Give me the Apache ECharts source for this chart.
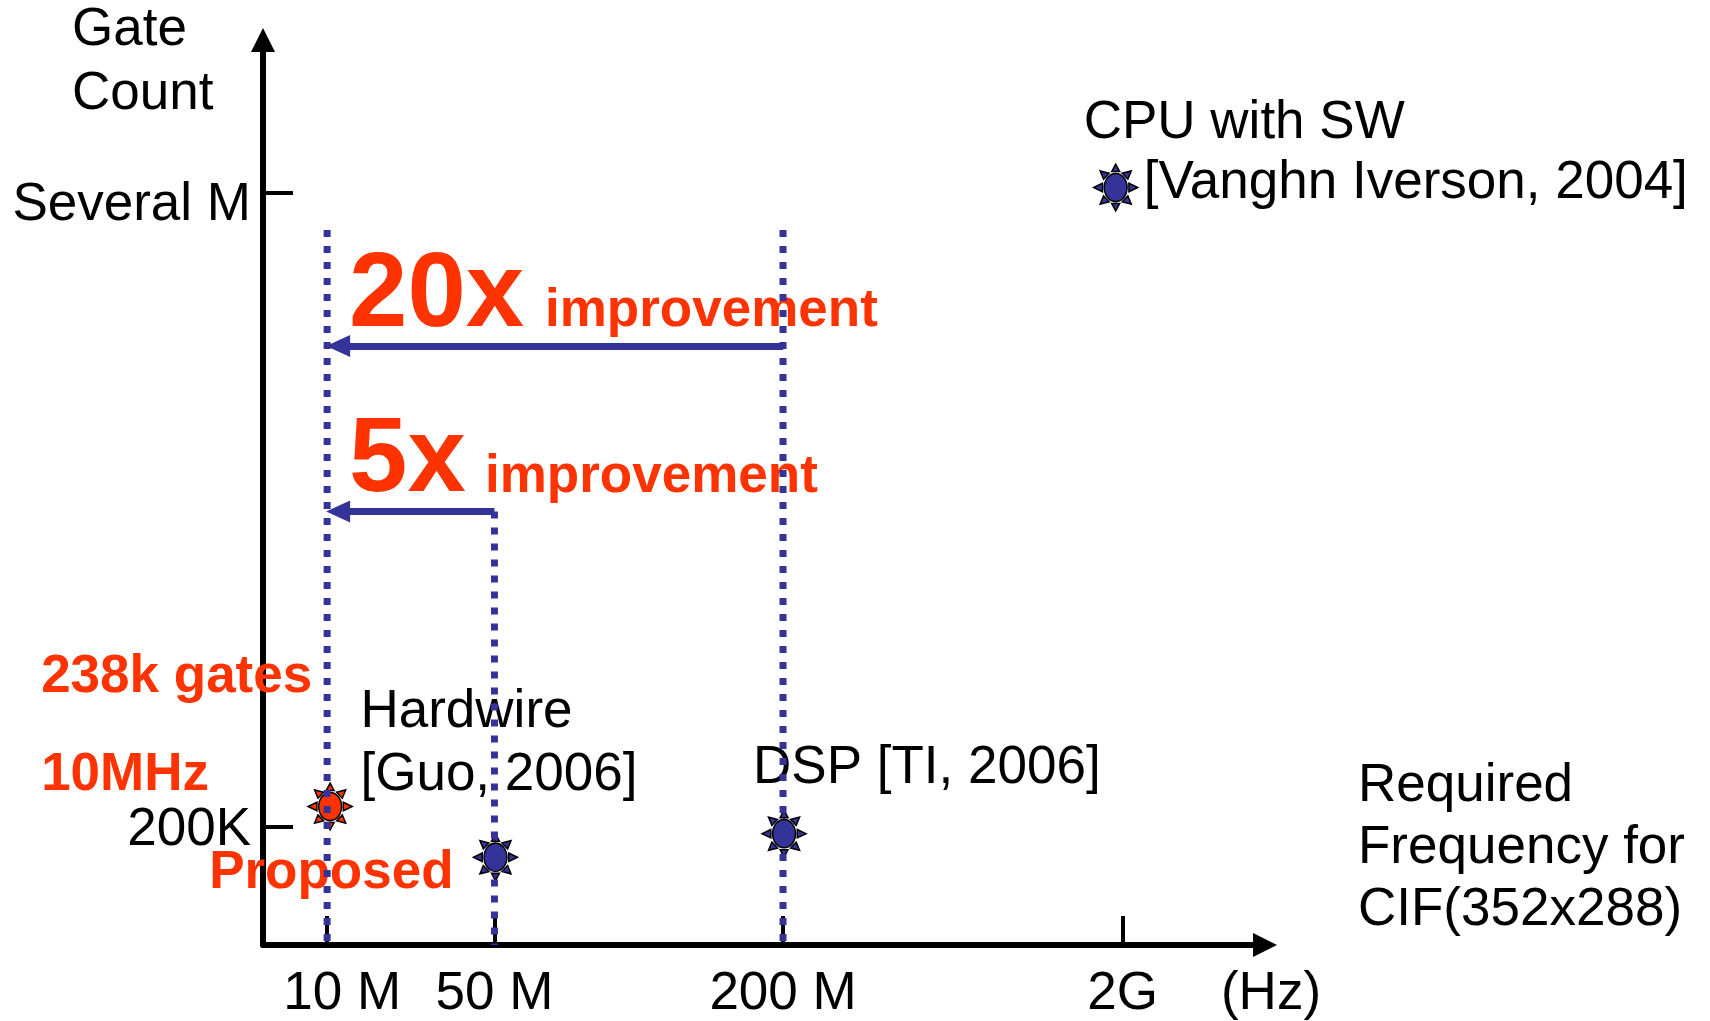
<!DOCTYPE html>
<html>
<head>
<meta charset="utf-8">
<script src="https://cdn.jsdelivr.net/npm/echarts@6/dist/echarts.min.js"></script>
<style>
  html, body { margin: 0; padding: 0; background: #fff; }
  #chart { width: 1710px; height: 1021px; }
</style>
</head>
<body>
<div id="chart"></div>
<script>
// frequency axis is schematic (neither linear nor log), so it runs 0..100 in axis units
const freqLabels = ['10 M', '50 M', '200 M', '2G', '(Hz)'];
const freqPos = [6.4, 23.1, 51.9, 85.8, 100];
// gate count axis, schematic too
const gateLabels = ['200K', 'Several M'];
const gatePos = [13.1, 83.1];

// designs
const designNames = ['Proposed', 'Hardwire', 'DSP', 'CPU'];
const designFreq = [6.7, 23.2, 52.0, 85.1];
const designGate = [15.3, 9.7, 12.3, 83.7];

// dotted guides (index into freqPos) and how high they reach
const guideFreqIdx = [0, 1, 2];
const guideTop = [79.0, 47.9, 79.0];

// improvement arrows
const arrowFromIdx = [2, 1];
const arrowToIdx = [0, 0];
const arrowGate = [66.2, 47.9];
const arrowText = ['20x', '5x'];

const RED = '#FF3300';
const BLUE = '#333399';
const FONT = '"Liberation Sans", Arial, sans-serif';

// sun-like marker: ellipse plus 8 spikes
function sunPath() {
    const cx = 50, cy = 50, rx = 26, ry = 30;
    let d = 'M' + (cx - rx) + ',' + cy + 'A' + rx + ',' + ry + ' 0 1,0 ' + (cx + rx) + ',' + cy
        + 'A' + rx + ',' + ry + ' 0 1,0 ' + (cx - rx) + ',' + cy + 'Z';
    for (let k = 0; k < 8; k++) {
        const a = k * Math.PI / 4;
        const c = Math.cos(a), s = Math.sin(a);
        const bx = cx + (rx + 4) * c, by = cy + (ry + 4) * s;
        const tx = cx + 50 * c, ty = cy + 50 * s;
        const w = 9;
        d += 'M' + (bx - w * s).toFixed(2) + ',' + (by + w * c).toFixed(2)
            + 'L' + tx.toFixed(2) + ',' + ty.toFixed(2)
            + 'L' + (bx + w * s).toFixed(2) + ',' + (by - w * c).toFixed(2) + 'Z';
    }
    return 'path://' + d;
}

const plainRich = (lh) => ({ fontSize: 53, color: '#000', fontFamily: FONT, lineHeight: lh });
const redRich = (lh, padLeft) => ({
    fontSize: 53, fontWeight: 'bold', color: RED, fontFamily: FONT, lineHeight: lh,
    padding: [0, 0, 0, padLeft]
});

const pointLabels = {
    Proposed: {
        formatter: '{a|238k gates}\n{a|10MHz}\n{b|Proposed}',
        offset: [-289, -31],
        rich: { a: redRich(98, 0), b: redRich(98, 168) }
    },
    Hardwire: {
        formatter: '{a|Hardwire}\n{a|[Guo, 2006]}',
        offset: [-135, -113],
        rich: { a: plainRich(63) }
    },
    DSP: {
        formatter: '{a|DSP [TI, 2006]}',
        offset: [-31, -65],
        rich: { a: plainRich(60) }
    },
    CPU: {
        formatter: '{a|CPU with SW}\n{b|[Vanghn Iverson, 2004]}',
        offset: [-32, -34],
        rich: { a: plainRich(60), b: Object.assign(plainRich(60), { padding: [0, 0, 0, 60] }) }
    }
};

const points = designNames.map((name, i) => ({
    name: name,
    value: [designFreq[i], designGate[i]],
    itemStyle: { color: name === 'Proposed' ? RED : BLUE, opacity: 1 },
    label: Object.assign({ show: true, position: 'inside', align: 'left', verticalAlign: 'middle' }, pointLabels[name])
}));

const guideSeries = guideFreqIdx.map((fi, i) => ({
    type: 'line',
    silent: true,
    z: 10,
    symbol: 'none',
    data: [[freqPos[fi], guideTop[i]], [freqPos[fi], 0]],
    lineStyle: { color: BLUE, width: 7, type: [7, 9], cap: 'butt' }
}));

// arrows ride on the first guide series
guideSeries[0].markLine = {
    silent: true,
    symbol: ['none', 'triangle'],
    symbolSize: [22, 24],
    label: { show: false },
    lineStyle: { color: BLUE, width: 7, type: 'solid', cap: 'butt' },
    data: arrowGate.map((g, i) => [
        { coord: [freqPos[arrowFromIdx[i]], g] },
        { coord: [freqPos[arrowToIdx[i]] + 1.1, g] }
    ])
};

const axisText = { fontSize: 53, color: '#000', fontFamily: FONT };

const chart = echarts.init(document.getElementById('chart'));
chart.setOption({
    animation: false,
    backgroundColor: '#fff',
    textStyle: { fontFamily: FONT },
    grid: { left: 263, right: 445, top: 40, bottom: 75 },
    xAxis: {
        type: 'value', min: 0, max: 100,
        axisLine: {
            show: true, onZero: false, symbol: ['none', 'triangle'], symbolSize: [24, 24],
            lineStyle: { color: '#000', width: 6 }
        },
        axisTick: {
            show: true, inside: true, length: 29, customValues: freqPos.slice(0, 4),
            lineStyle: { color: '#000', width: 4 }
        },
        axisLabel: {
            customValues: freqPos,
            formatter: (v) => {
                const i = freqPos.indexOf(v);
                if (i === 0) return '{first|' + freqLabels[i] + '}';
                if (i === freqLabels.length - 1) return '{unit|' + freqLabels[i] + '}';
                return '{t|' + freqLabels[i] + '}';
            },
            rich: {
                t: axisText,
                first: Object.assign({ padding: [0, 0, 0, 30] }, axisText),
                unit: Object.assign({ padding: [0, 0, 0, 12] }, axisText)
            },
            margin: 23
        },
        splitLine: { show: false }
    },
    yAxis: {
        type: 'value', min: 0, max: 100,
        axisLine: {
            show: true, onZero: false, symbol: ['none', 'triangle'], symbolSize: [24, 24],
            lineStyle: { color: '#000', width: 6 }
        },
        axisTick: {
            show: true, inside: true, length: 30, customValues: gatePos,
            lineStyle: { color: '#000', width: 4 }
        },
        axisLabel: {
            customValues: gatePos,
            formatter: (v) => {
                const i = gatePos.indexOf(v);
                return (i === 0 ? '{lo|' : '{hi|') + gateLabels[i] + '}';
            },
            rich: {
                lo: Object.assign({ padding: [8, 0, 0, 0] }, axisText),
                hi: Object.assign({ padding: [24, 0, 0, 0] }, axisText)
            },
            margin: 12
        },
        splitLine: { show: false }
    },
    graphic: [
        {
            type: 'text', x: 72, y: 62,
            style: { text: 'Gate\nCount', font: '53px ' + FONT, fill: '#000', align: 'left', verticalAlign: 'middle', lineHeight: 64 }
        },
        {
            type: 'text', x: 1358, y: 848,
            style: { text: 'Required\nFrequency for\nCIF(352x288)', font: '53px ' + FONT, fill: '#000', align: 'left', verticalAlign: 'middle', lineHeight: 62 }
        },
        {
            type: 'text', x: 349, y: 297,
            style: { text: arrowText[0], font: 'bold 105px ' + FONT, fill: RED, align: 'left', verticalAlign: 'middle' }
        },
        {
            type: 'text', x: 545, y: 311,
            style: { text: 'improvement', font: 'bold 53px ' + FONT, fill: RED, align: 'left', verticalAlign: 'middle' }
        },
        {
            type: 'text', x: 349, y: 462,
            style: { text: arrowText[1], font: 'bold 105px ' + FONT, fill: RED, align: 'left', verticalAlign: 'middle' }
        },
        {
            type: 'text', x: 485, y: 477,
            style: { text: 'improvement', font: 'bold 53px ' + FONT, fill: RED, align: 'left', verticalAlign: 'middle' }
        }
    ],
    series: [
        {
            type: 'scatter',
            z: 5,
            silent: true,
            symbol: sunPath(),
            symbolSize: [44, 47],
            itemStyle: { borderColor: '#000', borderWidth: 1.5, opacity: 1 },
            data: points
        }
    ].concat(guideSeries)
});
</script>
</body>
</html>
